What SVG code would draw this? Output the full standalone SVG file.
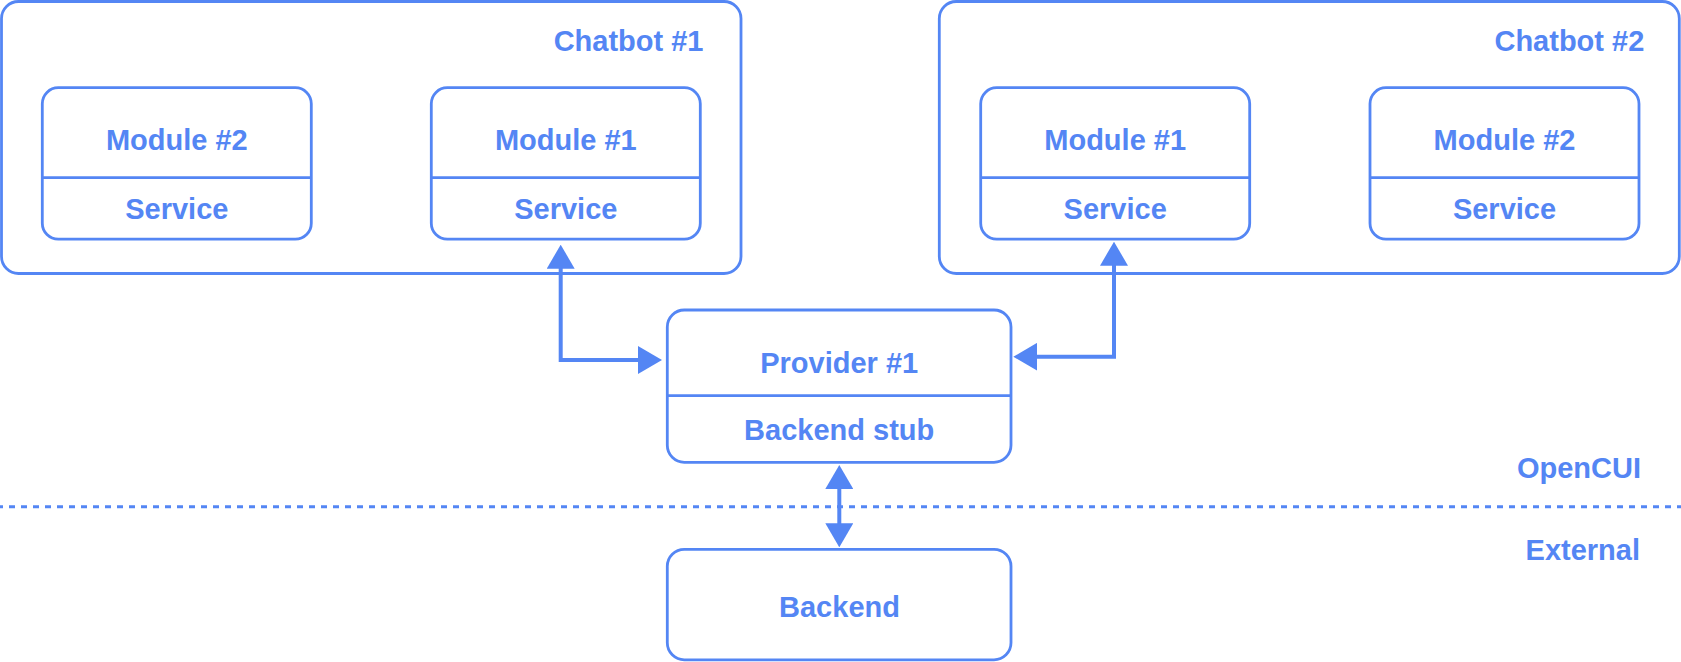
<svg xmlns="http://www.w3.org/2000/svg" width="1681" height="662" viewBox="0 0 1681 662">
  <style>
    .box { fill: #ffffff; stroke: #5486F4; stroke-width: 2.8; }
    .div { stroke: #5486F4; stroke-width: 2.8; fill: none; }
    .lbl { font-family: "Liberation Sans", Arial, Helvetica, sans-serif; font-weight: bold; font-size: 29px; fill: #5486F4; }
    .mid { text-anchor: middle; }
    .end { text-anchor: end; }
    .conn { fill: none; stroke: #5486F4; stroke-width: 4; stroke-linejoin: miter; marker-start: url(#arrow); marker-end: url(#arrow); }
    .sep { fill: none; stroke: #5486F4; stroke-width: 3; stroke-dasharray: 6 6; stroke-dashoffset: 3; }
  </style>
  <defs>
    <marker id="arrow" markerUnits="userSpaceOnUse" viewBox="0 0 24 28" refX="6" refY="14" markerWidth="24" markerHeight="28" orient="auto-start-reverse">
      <path d="M0,0 L24,14 L0,28 Z" fill="#5486F4"/>
    </marker>
  </defs>
  <rect width="1681" height="662" fill="#ffffff"/>

  <g id="separator">
    <line class="sep" x1="0" y1="506.7" x2="1681" y2="506.7"/>
  </g>

  <g id="chatbot1">
    <rect class="box" x="1.5" y="1.5" width="739.5" height="272" rx="17"/>
    <text class="lbl end" x="703.5" y="51">Chatbot #1</text>
  </g>
  <g id="chatbot1-module2">
    <rect class="box" x="42.3" y="87.7" width="269" height="151.5" rx="16"/>
    <line class="div" x1="42.3" y1="177.7" x2="311.3" y2="177.7"/>
    <text class="lbl mid" x="176.8" y="150">Module #2</text>
    <text class="lbl mid" x="176.8" y="219.3">Service</text>
  </g>
  <g id="chatbot1-module1">
    <rect class="box" x="431.3" y="87.7" width="269" height="151.5" rx="16"/>
    <line class="div" x1="431.3" y1="177.7" x2="700.3" y2="177.7"/>
    <text class="lbl mid" x="565.8" y="150">Module #1</text>
    <text class="lbl mid" x="565.8" y="219.3">Service</text>
  </g>

  <g id="chatbot2">
    <rect class="box" x="939.3" y="1.5" width="740" height="272" rx="17"/>
    <text class="lbl end" x="1644.3" y="51">Chatbot #2</text>
  </g>
  <g id="chatbot2-module1">
    <rect class="box" x="980.7" y="87.7" width="269" height="151.5" rx="16"/>
    <line class="div" x1="980.7" y1="177.7" x2="1249.7" y2="177.7"/>
    <text class="lbl mid" x="1115.2" y="150">Module #1</text>
    <text class="lbl mid" x="1115.2" y="219.3">Service</text>
  </g>
  <g id="chatbot2-module2">
    <rect class="box" x="1370" y="87.7" width="269" height="151.5" rx="16"/>
    <line class="div" x1="1370" y1="177.7" x2="1639" y2="177.7"/>
    <text class="lbl mid" x="1504.5" y="150">Module #2</text>
    <text class="lbl mid" x="1504.5" y="219.3">Service</text>
  </g>

  <g id="provider1">
    <rect class="box" x="667.3" y="310" width="343.7" height="152.3" rx="17"/>
    <line class="div" x1="667.3" y1="395.7" x2="1011" y2="395.7"/>
    <text class="lbl mid" x="839.2" y="373.3">Provider #1</text>
    <text class="lbl mid" x="839.2" y="440">Backend stub</text>
  </g>

  <g id="backend">
    <rect class="box" x="667.3" y="549.3" width="343.7" height="110.5" rx="17"/>
    <text class="lbl mid" x="839.5" y="616.7">Backend</text>
  </g>

  <g id="zone-labels">
    <text class="lbl end" x="1641" y="478">OpenCUI</text>
    <text class="lbl end" x="1640" y="560">External</text>
  </g>

  <g id="connectors">
    <path class="conn" d="M560.7,262.7 L560.7,360 L644,360"/>
    <path class="conn" d="M1114,259.7 L1114,356.7 L1031.3,356.7"/>
    <path class="conn" d="M839.3,483 L839.3,529.3"/>
  </g>
</svg>
